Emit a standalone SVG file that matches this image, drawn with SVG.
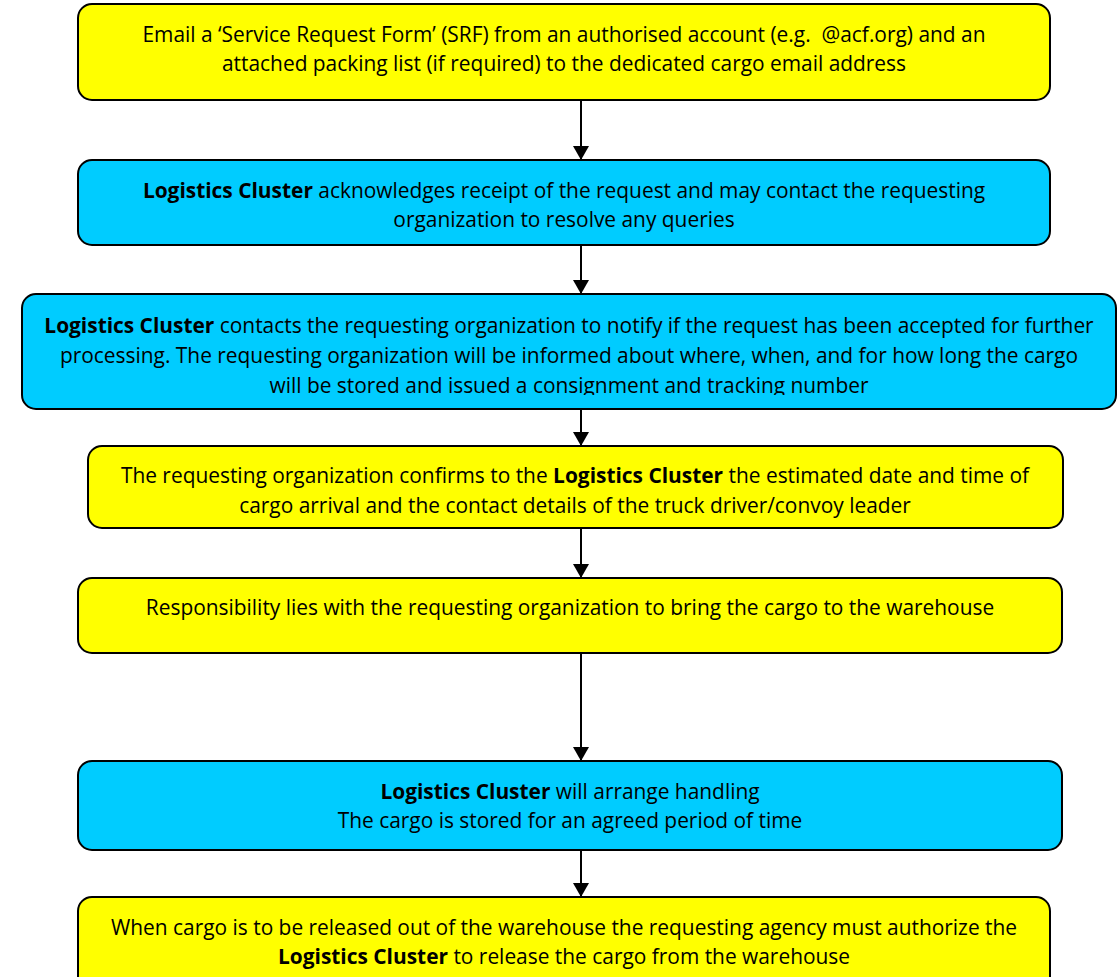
<svg xmlns="http://www.w3.org/2000/svg" width="1117" height="977" viewBox="0 0 1117 977">
<style>
.box{stroke:#000;stroke-width:2}
.y{fill:#FFFF00}
.c{fill:#00CCFF}
text{font-family:"Open Sans","Liberation Sans",sans-serif;font-size:20.9px;fill:#000;text-anchor:middle}
.b{font-weight:bold}
.con{stroke:#000;stroke-width:2;fill:none}
</style>
<defs>
<marker id="ah" markerWidth="14" markerHeight="16" refX="14" refY="8" orient="auto" markerUnits="userSpaceOnUse">
<path d="M0,0 L14,8 L0,16 Z" fill="#000"/>
</marker>
<clipPath id="clip3"><rect x="0" y="290" width="1117" height="105"/></clipPath>
</defs>
<g id="connectors">
<line class="con" x1="581" y1="100" x2="581" y2="160" marker-end="url(#ah)"/>
<line class="con" x1="581" y1="245" x2="581" y2="294" marker-end="url(#ah)"/>
<line class="con" x1="581" y1="409" x2="581" y2="446" marker-end="url(#ah)"/>
<line class="con" x1="581" y1="528" x2="581" y2="578" marker-end="url(#ah)"/>
<line class="con" x1="581" y1="653" x2="581" y2="761" marker-end="url(#ah)"/>
<line class="con" x1="581" y1="850" x2="581" y2="897" marker-end="url(#ah)"/>
</g>
<g id="n1">
<rect class="box y" x="78" y="4" width="972" height="96" rx="14"/>
<text x="564" y="42">Email a ‘Service Request Form’ (SRF) from an authorised account (e.g. &#160;@acf.org) and an</text>
<text x="564" y="71">attached packing list (if required) to the dedicated cargo email address</text>
</g>
<g id="n2">
<rect class="box c" x="78" y="160" width="972" height="85" rx="14"/>
<text x="564" y="198"><tspan class="b">Logistics Cluster</tspan> acknowledges receipt of the request and may contact the requesting</text>
<text x="564" y="227">organization to resolve any queries</text>
</g>
<g id="n3">
<rect class="box c" x="22" y="294" width="1094" height="115" rx="14"/>
<g clip-path="url(#clip3)">
<text x="569" y="333"><tspan class="b">Logistics Cluster</tspan> contacts the requesting organization to notify if the request has been accepted for further</text>
<text x="569" y="363">processing. The requesting organization will be informed about where, when, and for how long the cargo</text>
<text x="569" y="393">will be stored and issued a consignment and tracking number</text>
</g>
</g>
<g id="n4">
<rect class="box y" x="88" y="446" width="975" height="82" rx="14"/>
<text x="575" y="483">The requesting organization confirms to the <tspan class="b">Logistics Cluster</tspan> the estimated date and time of</text>
<text x="575" y="513">cargo arrival and the contact details of the truck driver/convoy leader</text>
</g>
<g id="n5">
<rect class="box y" x="78" y="578" width="984" height="75" rx="14"/>
<text x="570" y="615">Responsibility lies with the requesting organization to bring the cargo to the warehouse</text>
</g>
<g id="n6">
<rect class="box c" x="78" y="761" width="984" height="89" rx="14"/>
<text x="570" y="799"><tspan class="b">Logistics Cluster</tspan> will arrange handling</text>
<text x="570" y="828">The cargo is stored for an agreed period of time</text>
</g>
<g id="n7">
<rect class="box y" x="78" y="897" width="972" height="95" rx="14"/>
<text x="564" y="935">When cargo is to be released out of the warehouse the requesting agency must authorize the</text>
<text x="564" y="964"><tspan class="b">Logistics Cluster</tspan> to release the cargo from the warehouse</text>
</g>
</svg>
